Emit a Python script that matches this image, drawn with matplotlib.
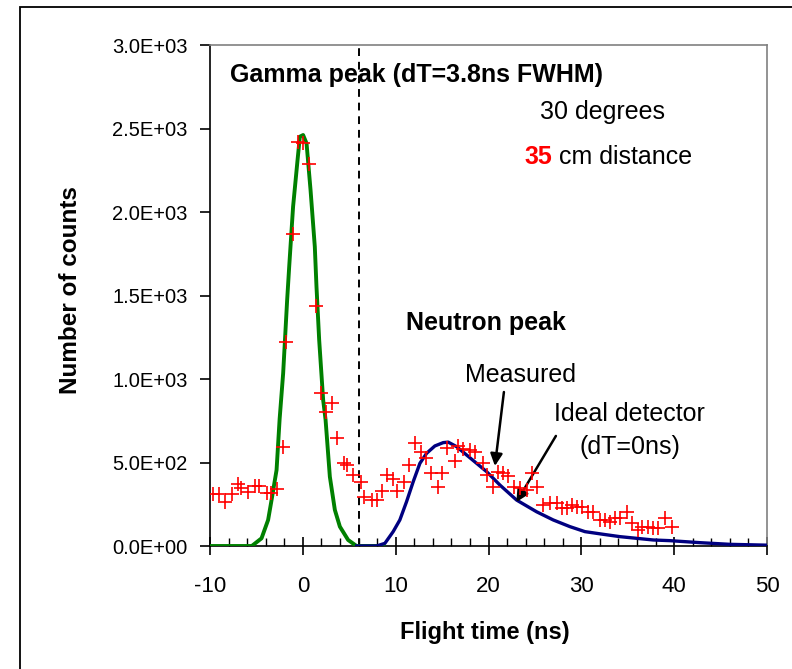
import matplotlib
matplotlib.use("Agg")
import matplotlib.pyplot as plt
from matplotlib.patches import Rectangle
from matplotlib.ticker import FuncFormatter, MultipleLocator

plt.rcParams["font.family"] = ["Liberation Sans", "DejaVu Sans"]
plt.rcParams["axes.unicode_minus"] = False

# Measured time-of-flight histogram (ns, counts)
meas_t = [-9.67, -9.02, -8.41, -7.62, -6.97, -6.61, -5.96, -5.17, -4.71, -3.91,
          -3.45, -2.77, -2.19, -1.76, -1.05, -0.51, 0.03, 0.68, 1.40, 1.91,
          2.48, 3.09, 3.63, 4.42, 4.74, 5.42, 6.22, 6.61, 7.40, 7.94,
          8.48, 9.02, 9.67, 10.16, 10.92, 11.45, 12.07, 12.68, 13.22, 13.79,
          14.58, 14.95, 15.55, 16.38, 16.74, 17.27, 18.00, 18.53, 19.43, 19.80,
          20.44, 21.05, 21.58, 22.12, 22.74, 23.38, 24.11, 24.64, 25.18, 25.89,
          26.62, 27.34, 27.88, 28.42, 28.96, 29.49, 30.03, 30.74, 31.28, 32.00,
          32.54, 33.08, 33.62, 34.16, 34.88, 35.42, 36.13, 36.50, 37.21, 37.75,
          38.29, 39.01, 39.73]
meas_counts = [311, 311, 263, 311, 371, 347, 325, 361, 361, 316,
               316, 340, 591, 1220, 1866, 2421, 2411, 2287, 1439, 914,
               802, 858, 645, 495, 485, 425, 385, 295, 275, 275,
               331, 425, 399, 331, 385, 485, 619, 565, 525, 435,
               355, 435, 585, 510, 599, 579, 575, 565, 500, 425,
               355, 445, 439, 419, 355, 345, 335, 435, 355, 245,
               256, 256, 226, 226, 245, 235, 235, 205, 205, 156,
               156, 146, 166, 166, 205, 136, 96, 116, 116, 106,
               106, 166, 116]

# Gamma peak fit
gamma_t = [-10.0, -5.5, -4.45, -3.74, -3.37, -2.83, -2.5, -2.12, -1.69, -1.47,
           -1.05, -0.57, -0.32, 0.03, 0.40, 0.83, 1.29, 1.47, 1.76, 2.19,
           2.45, 2.91, 3.45, 3.99, 4.88, 5.79, 8.7]
gamma_counts = [0, 0, 46, 156, 275, 455, 760, 1034, 1473, 1672,
                2032, 2311, 2451, 2461, 2411, 2132, 1792, 1553, 1234, 874,
                755, 415, 216, 116, 36, 0, 0]

# Neutron response of an ideal detector (dT = 0 ns)
ideal_t = [5.8, 7.94, 8.84, 9.73, 10.45, 11.17, 11.89, 12.61, 13.33, 14.22,
           15.12, 15.66, 16.56, 17.64, 18.72, 19.80, 21.23, 23.03, 25.18, 26.97,
           28.77, 30.39, 32.36, 34.16, 37.75, 39.55, 42.78, 46.0, 50.0]
ideal_counts = [0, 0, 16, 86, 156, 265, 385, 495, 555, 599,
                619, 622, 595, 545, 495, 445, 365, 275, 205, 156,
                116, 86, 70, 56, 36, 32, 20, 10, 5]

gamma_cut = 6.0
x_ticks = [-10, 0, 10, 20, 30, 40, 50]

fig = plt.figure(figsize=(7.92, 6.69), dpi=100)
ax = fig.add_axes([210 / 792, 1 - 546 / 669, 557 / 792, 501 / 669])

# outer chart frame
fig.patches.append(Rectangle((20 / 792, -0.05), 1.2, 1 - 7 / 669 + 0.05,
                             transform=fig.transFigure, fill=False,
                             ec="black", lw=1.3, zorder=0))

ax.plot(gamma_t, gamma_counts, color="#008000", lw=2.8, zorder=3)
ax.plot(ideal_t, ideal_counts, color="#000080", lw=2.4, zorder=3)
ax.plot(meas_t, meas_counts, ls="none", marker="+", color="#ff0000",
        ms=10, mew=1.2, zorder=4)
ax.axvline(gamma_cut, color="black", ls=(0, (4, 3)), lw=1.4, zorder=2)

ax.set_xlim(-10, 50)
ax.set_ylim(0, 3000)
ax.set_xticks(x_ticks)
ax.xaxis.set_minor_locator(MultipleLocator(2))
ax.yaxis.set_major_locator(MultipleLocator(500))
ax.yaxis.set_major_formatter(FuncFormatter(lambda v, p: f"{v:.1E}"))

for side in ("top", "right"):
    ax.spines[side].set_color("#808080")
    ax.spines[side].set_linewidth(1.2)
for side in ("left", "bottom"):
    ax.spines[side].set_color("black")
    ax.spines[side].set_linewidth(1.2)

ax.tick_params(axis="x", which="major", direction="inout", length=13,
               width=1.2, pad=15, labelsize=16)
ax.tick_params(axis="x", which="minor", direction="in", length=6, width=1.0)
ax.tick_params(axis="y", which="major", direction="out", length=7,
               width=1.2, pad=9, labelsize=14.5)

ax.set_xlabel("Flight time (ns)", fontsize=17, fontweight="bold", va="center")
ax.set_ylabel("Number of counts", fontsize=17.5, fontweight="bold", va="center")
ax.xaxis.set_label_coords(0.494, -0.172)
ax.yaxis.set_label_coords(-0.25, 0.511)

ax.text(-7.8, 2820, "Gamma peak (dT=3.8ns FWHM)", fontsize=18,
        fontweight="bold", ha="left", va="center")
ax.text(32.3, 2599, "30 degrees", fontsize=18, ha="center", va="center")
t35 = ax.text(23.9, 2329, "35", fontsize=18, fontweight="bold",
              color="#ff0000", ha="left", va="center")
ax.annotate(" cm distance", xycoords=t35, xy=(1, 0.5), va="center",
            ha="left", fontsize=18)
ax.text(19.7, 1335, "Neutron peak", fontsize=18, fontweight="bold",
        ha="center", va="center")

ax.text(23.4, 1024, "Measured", fontsize=18, ha="center", va="center")
ax.text(35.2, 692, "Ideal detector\n(dT=0ns)", fontsize=18, ha="center",
        va="center", linespacing=1.5)

arrow = dict(arrowstyle="-|>", color="black", lw=1.8, mutation_scale=18,
             shrinkA=0, shrinkB=0)
ax.annotate("", xy=(20.69, 479), xytext=(21.66, 922), arrowprops=arrow)
ax.annotate("", xy=(23.0, 263), xytext=(27.26, 659), arrowprops=arrow)

fig.savefig("out.png", dpi=100)
